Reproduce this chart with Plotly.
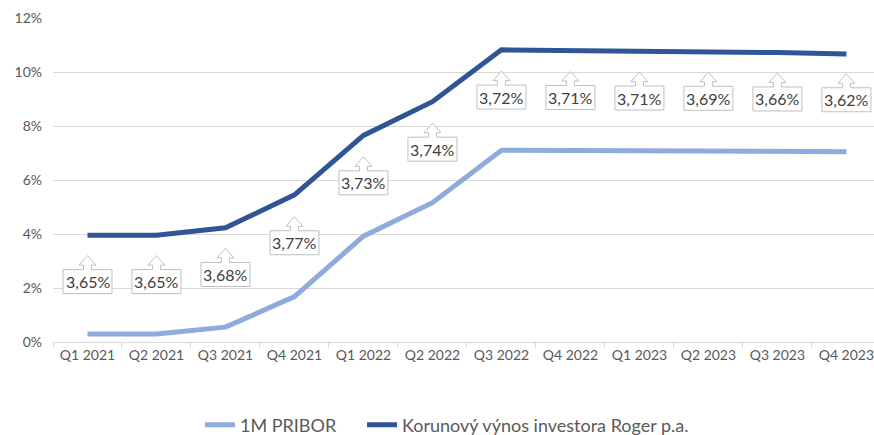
import plotly.graph_objects as go

quarters = ["Q1 2021", "Q2 2021", "Q3 2021", "Q4 2021",
            "Q1 2022", "Q2 2022", "Q3 2022", "Q4 2022",
            "Q1 2023", "Q2 2023", "Q3 2023", "Q4 2023"]
pribor = [0.30, 0.30, 0.55, 1.68, 3.92, 5.16, 7.10, 7.09, 7.07, 7.07, 7.06, 7.05]
roger = [3.95, 3.95, 4.23, 5.45, 7.65, 8.90, 10.82, 10.80, 10.78, 10.76, 10.72, 10.67]
spread = [3.65, 3.65, 3.68, 3.77, 3.73, 3.74, 3.72, 3.71, 3.71, 3.69, 3.66, 3.62]
y_ticks = [0, 2, 4, 6, 8, 10, 12]
y_tick_text = [f"{v}%" for v in y_ticks]

FONT = "Lato"
LIGHT = "#8FAADC"
DARK = "#2F5597"
GRID = "#D9D9D9"
TXT = "#595959"

fig = go.Figure()
fig.add_trace(go.Scatter(x=quarters, y=pribor, mode="lines", name="1M PRIBOR",
                         line=dict(color=LIGHT, width=5), legend="legend"))
fig.add_trace(go.Scatter(x=quarters, y=roger, mode="lines",
                         name="Korunový výnos investora Roger p.a.",
                         line=dict(color=DARK, width=5), legend="legend2"))

# up-arrow callout path (pixels relative to anchor, +y up)
callout = ("M -24.5,-9 L 24.5,-9 L 24.5,15 L 4,15 L 4,19.5 L 8.5,19.5 L 0,29 "
           "L -8.5,19.5 L -4,19.5 L -4,15 L -24.5,15 Z")
shapes = []
annotations = []
for q, lo, hi, s in zip(quarters, pribor, roger, spread):
    mid = (lo + hi) / 2
    shapes.append(dict(type="path", xref="x", yref="y", xsizemode="pixel", ysizemode="pixel",
                       xanchor=q, yanchor=mid, path=callout,
                       fillcolor="white", line=dict(color="#BFBFBF", width=1), layer="above"))
    annotations.append(dict(x=q, y=mid, xref="x", yref="y", yshift=3, showarrow=False,
                            text=f"{s:.2f}".replace(".", ",") + "%",
                            font=dict(family=FONT, size=16, color="#404040")))

legend_common = dict(orientation="h", xanchor="left", y=-0.256, yanchor="middle",
                     font=dict(family=FONT, size=18, color=TXT), bgcolor="rgba(0,0,0,0)")

fig.update_layout(
    width=874, height=435,
    margin=dict(l=53, r=0, t=18, b=93, autoexpand=False),
    paper_bgcolor="white", plot_bgcolor="white",
    font=dict(family=FONT, size=14, color=TXT),
    shapes=shapes, annotations=annotations,
    showlegend=True,
    legend=dict(x=0.179, **legend_common),
    legend2=dict(x=0.3764, **legend_common),
    xaxis=dict(type="category", range=[-0.5, 11.4], showgrid=False, showline=True,
               linecolor=GRID, linewidth=1, ticks="outside", tickson="boundaries",
               ticklen=5, tickcolor=GRID, tickfont=dict(family=FONT, size=14, color=TXT),
               automargin=False),
    yaxis=dict(range=[0, 12], tickmode="array", tickvals=y_ticks, ticktext=y_tick_text,
               showgrid=True, gridcolor=GRID, gridwidth=1, zeroline=False, showline=False,
               tickfont=dict(family=FONT, size=14, color=TXT), ticklabelstandoff=10,
               automargin=False),
)

fig.write_html("out.html", config={"displayModeBar": False},
               post_script="document.body.style.margin='0';document.body.style.overflow='hidden';")
